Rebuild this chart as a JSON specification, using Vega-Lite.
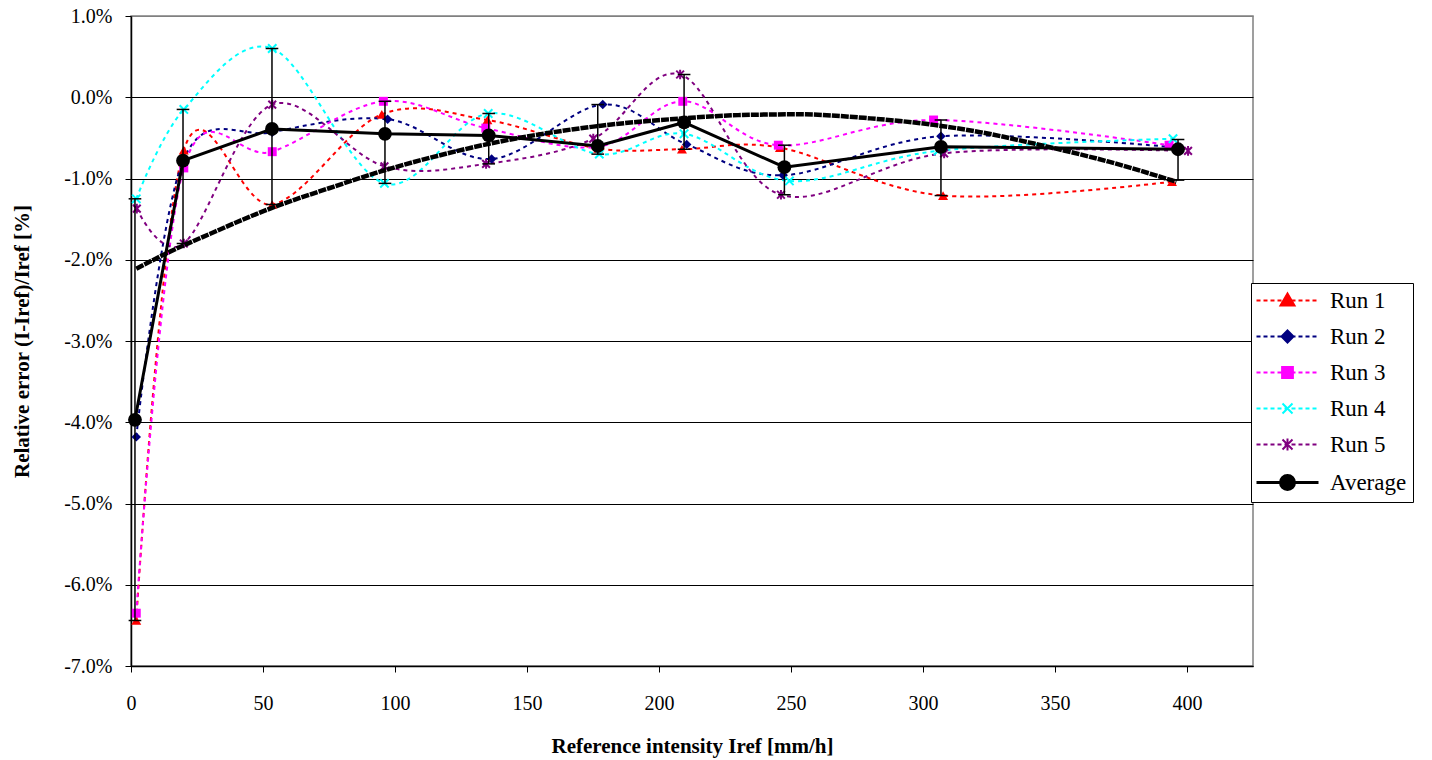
{
  "$schema": "https://vega.github.io/schema/vega-lite/v6.json",
  "width": 1122,
  "height": 650,
  "autosize": "none",
  "padding": {"left": 131, "top": 16, "right": 179, "bottom": 94},
  "background": "white",
  "config": {
    "view": {"stroke": "#808080", "strokeWidth": 1.5},
    "font": "Liberation Serif",
    "axis": {"labelFont": "Liberation Serif", "titleFont": "Liberation Serif", "labelColor": "black", "titleColor": "black"}
  },
  "datasets": {
    "runs": [
      {"series": "Run 1", "x": 2, "y": -6.44}, {"series": "Run 1", "x": 20, "y": -0.65}, {"series": "Run 1", "x": 53.5, "y": -1.32}, {"series": "Run 1", "x": 95, "y": -0.21}, {"series": "Run 1", "x": 135, "y": -0.28}, {"series": "Run 1", "x": 177, "y": -0.63}, {"series": "Run 1", "x": 208.7, "y": -0.64}, {"series": "Run 1", "x": 245.8, "y": -0.62}, {"series": "Run 1", "x": 307.6, "y": -1.21}, {"series": "Run 1", "x": 394.3, "y": -1.04},
      {"series": "Run 2", "x": 2, "y": -4.18}, {"series": "Run 2", "x": 20, "y": -0.76}, {"series": "Run 2", "x": 53.5, "y": -0.43}, {"series": "Run 2", "x": 97.2, "y": -0.27}, {"series": "Run 2", "x": 136.6, "y": -0.76}, {"series": "Run 2", "x": 178.7, "y": -0.09}, {"series": "Run 2", "x": 210.5, "y": -0.58}, {"series": "Run 2", "x": 247, "y": -0.96}, {"series": "Run 2", "x": 306.8, "y": -0.48}, {"series": "Run 2", "x": 396.6, "y": -0.62},
      {"series": "Run 3", "x": 2, "y": -6.35}, {"series": "Run 3", "x": 20, "y": -0.87}, {"series": "Run 3", "x": 53.5, "y": -0.67}, {"series": "Run 3", "x": 95.6, "y": -0.05}, {"series": "Run 3", "x": 134.4, "y": -0.38}, {"series": "Run 3", "x": 177, "y": -0.61}, {"series": "Run 3", "x": 209, "y": -0.05}, {"series": "Run 3", "x": 245.2, "y": -0.59}, {"series": "Run 3", "x": 304, "y": -0.28}, {"series": "Run 3", "x": 393.2, "y": -0.59},
      {"series": "Run 4", "x": 2, "y": -1.25}, {"series": "Run 4", "x": 20, "y": -0.15}, {"series": "Run 4", "x": 53.5, "y": 0.60}, {"series": "Run 4", "x": 96, "y": -1.06}, {"series": "Run 4", "x": 135.3, "y": -0.20}, {"series": "Run 4", "x": 177.4, "y": -0.70}, {"series": "Run 4", "x": 209.5, "y": -0.45}, {"series": "Run 4", "x": 249.4, "y": -1.03}, {"series": "Run 4", "x": 305.7, "y": -0.66}, {"series": "Run 4", "x": 394.7, "y": -0.51},
      {"series": "Run 5", "x": 2.2, "y": -1.37}, {"series": "Run 5", "x": 20, "y": -1.80}, {"series": "Run 5", "x": 53.5, "y": -0.09}, {"series": "Run 5", "x": 96, "y": -0.85}, {"series": "Run 5", "x": 134.5, "y": -0.82}, {"series": "Run 5", "x": 175.1, "y": -0.51}, {"series": "Run 5", "x": 208, "y": 0.28}, {"series": "Run 5", "x": 246.2, "y": -1.20}, {"series": "Run 5", "x": 308, "y": -0.69}, {"series": "Run 5", "x": 400.4, "y": -0.66}
    ],
    "avg": [
      {"x": 1.5, "y": -3.97, "lo": -6.44, "hi": -1.25},
      {"x": 19.7, "y": -0.78, "lo": -1.80, "hi": -0.15},
      {"x": 53.4, "y": -0.39, "lo": -1.32, "hi": 0.60},
      {"x": 96.2, "y": -0.45, "lo": -1.06, "hi": -0.05},
      {"x": 135.5, "y": -0.47, "lo": -0.82, "hi": -0.20},
      {"x": 176.8, "y": -0.60, "lo": -0.70, "hi": -0.09},
      {"x": 209.5, "y": -0.31, "lo": -0.64, "hi": 0.28},
      {"x": 247.5, "y": -0.86, "lo": -1.20, "hi": -0.59},
      {"x": 306.8, "y": -0.61, "lo": -1.21, "hi": -0.28},
      {"x": 396.6, "y": -0.64, "lo": -1.02, "hi": -0.52}
    ],
    "trend": [
      {"x": 2, "y": -2.11}, {"x": 13.5, "y": -1.92}, {"x": 30, "y": -1.68}, {"x": 52.7, "y": -1.37}, {"x": 75, "y": -1.12}, {"x": 97, "y": -0.89}, {"x": 120, "y": -0.69}, {"x": 136, "y": -0.57}, {"x": 160, "y": -0.43}, {"x": 178, "y": -0.35}, {"x": 209, "y": -0.26}, {"x": 230, "y": -0.22}, {"x": 253, "y": -0.21}, {"x": 280, "y": -0.26}, {"x": 304, "y": -0.34}, {"x": 325, "y": -0.45}, {"x": 342, "y": -0.57}, {"x": 370, "y": -0.79}, {"x": 396, "y": -1.04}
    ]
  },
  "layer": [
    {
      "data": {"name": "runs"},
      "mark": {"type": "line", "strokeWidth": 2, "strokeDash": [4, 4], "interpolate": "cardinal"},
      "encoding": {
        "x": {"field": "x", "type": "quantitative", "scale": {"domain": [0, 425], "nice": false, "zero": false},
          "axis": {"title": "Reference intensity Iref [mm/h]", "titleFontSize": 21, "titleFontWeight": "bold", "titlePadding": 22,
            "values": [0, 50, 100, 150, 200, 250, 300, 350, 400], "grid": false, "labelFontSize": 20, "labelPadding": 21,
            "tickSize": 6, "tickColor": "black", "domainColor": "black", "domainWidth": 1.5, "labelFlush": false}},
        "y": {"field": "y", "type": "quantitative", "scale": {"domain": [-7, 1], "nice": false, "zero": false},
          "axis": {"title": "Relative error (I-Iref)/Iref [%]", "titleFontSize": 21, "titleFontWeight": "bold", "titlePadding": 31,
            "values": [-7, -6, -5, -4, -3, -2, -1, 0, 1], "grid": true,
            "gridColor": {"condition": {"test": "datum.value === 1", "value": "#808080"}, "value": "#000000"},
            "gridWidth": 1, "labelFontSize": 20, "labelPadding": 13, "tickSize": 6, "tickColor": "black",
            "domainColor": "black", "domainWidth": 1.5, "labelFlush": false,
            "labelExpr": "(datum.value < 0 ? '-' : '') + format(abs(datum.value), '.1f') + '%'"}},
        "color": {"field": "series", "type": "nominal",
          "scale": {"domain": ["Run 1", "Run 2", "Run 3", "Run 4", "Run 5", "Average"], "range": ["#ff0000", "#000080", "#ff00ff", "#00ffff", "#800080", "#000000"]},
          "legend": {
            "title": null, "orient": "none", "legendX": 1120, "legendY": 267,
            "labelFont": "Liberation Serif", "labelFontSize": 23, "labelColor": "black", "labelOffset": 50,
            "rowPadding": 12, "padding": 6, "strokeColor": "black", "fillColor": "white",
            "symbolSize": 16, "symbolStrokeWidth": 2,
            "encode": {"symbols": {"update": {
              "shape": {"signal": "datum.value === 'Run 1' ? 'M-6,0L-4,0M-2.5,0L-0.5,0M1,0L3,0M4.5,0L6.5,0M8,0L10,0M11.5,0L13.5,0M15,0L17,0M18.5,0L20.5,0M22,0L24,0M9.5,-3.5L13,2.5L6,2.5Z' : datum.value === 'Run 2' ? 'M-6,0L-4,0M-2.5,0L-0.5,0M1,0L3,0M4.5,0L6.5,0M8,0L10,0M11.5,0L13.5,0M15,0L17,0M18.5,0L20.5,0M22,0L24,0M9.5,-3L12.5,0L9.5,3L6.5,0Z' : datum.value === 'Run 3' ? 'M-6,0L-4,0M-2.5,0L-0.5,0M1,0L3,0M4.5,0L6.5,0M8,0L10,0M11.5,0L13.5,0M15,0L17,0M18.5,0L20.5,0M22,0L24,0M6.8,-2.7L12.2,-2.7L12.2,2.7L6.8,2.7Z' : datum.value === 'Run 4' ? 'M-6,0L-4,0M-2.5,0L-0.5,0M1,0L3,0M4.5,0L6.5,0M8,0L10,0M11.5,0L13.5,0M15,0L17,0M18.5,0L20.5,0M22,0L24,0M7,-2.5L12,2.5M7,2.5L12,-2.5' : datum.value === 'Run 5' ? 'M-6,0L-4,0M-2.5,0L-0.5,0M1,0L3,0M4.5,0L6.5,0M8,0L10,0M11.5,0L13.5,0M15,0L17,0M18.5,0L20.5,0M22,0L24,0M7,-2.5L12,2.5M7,2.5L12,-2.5M9.5,-3L9.5,3' : 'M-6,0L25,0M13,0A3.5,3.5,0,1,1,6,0A3.5,3.5,0,1,1,13,0Z'"},
              "fill": {"signal": "scale('color', datum.value)"},
              "stroke": {"signal": "scale('color', datum.value)"},
              "strokeWidth": {"signal": "datum.value === 'Average' ? 3 : 2"},
              "strokeDash": {"value": []},
              "opacity": {"value": 1},
              "fillOpacity": {"value": 1},
              "size": {"value": 16}
            }}}
          }}
      }
    },
    {
      "data": {"name": "runs"},
      "transform": [{"filter": "datum.series === 'Run 1' || datum.series === 'Run 2' || datum.series === 'Run 3'"}],
      "mark": {"type": "point", "filled": true, "opacity": 1},
      "encoding": {
        "x": {"field": "x", "type": "quantitative"},
        "y": {"field": "y", "type": "quantitative"},
        "color": {"field": "series", "type": "nominal"},
        "shape": {"field": "series", "type": "nominal", "legend": null,
          "scale": {"domain": ["Run 1", "Run 2", "Run 3", "Run 4", "Run 5"], "range": ["triangle-up", "diamond", "square", "M-1,-1L1,1M-1,1L1,-1", "M-1,-1L1,1M-1,1L1,-1M0,-1.25L0,1.25"]}},
        "size": {"field": "series", "type": "nominal", "legend": null,
          "scale": {"domain": ["Run 1", "Run 2", "Run 3", "Run 4", "Run 5"], "range": [100, 60, 90, 110, 110]}}
      }
    },
    {
      "data": {"name": "runs"},
      "transform": [{"filter": "datum.series === 'Run 4' || datum.series === 'Run 5'"}],
      "mark": {"type": "point", "filled": false, "opacity": 1, "strokeWidth": 2},
      "encoding": {
        "x": {"field": "x", "type": "quantitative"},
        "y": {"field": "y", "type": "quantitative"},
        "color": {"field": "series", "type": "nominal"},
        "shape": {"field": "series", "type": "nominal", "legend": null},
        "size": {"field": "series", "type": "nominal", "legend": null}
      }
    },
    {
      "data": {"name": "trend"},
      "mark": {"type": "line", "color": "black", "strokeWidth": 4.5, "strokeDash": [8, 1], "interpolate": "monotone"},
      "encoding": {
        "x": {"field": "x", "type": "quantitative"},
        "y": {"field": "y", "type": "quantitative"}
      }
    },
    {
      "data": {"name": "avg"},
      "mark": {"type": "line", "color": "black", "strokeWidth": 3},
      "encoding": {
        "x": {"field": "x", "type": "quantitative"},
        "y": {"field": "y", "type": "quantitative"}
      }
    },
    {
      "data": {"name": "avg"},
      "mark": {"type": "rule", "color": "black", "strokeWidth": 1.5},
      "encoding": {
        "x": {"field": "x", "type": "quantitative"},
        "y": {"field": "lo", "type": "quantitative"},
        "y2": {"field": "hi"}
      }
    },
    {
      "data": {"name": "avg"},
      "transform": [{"fold": ["lo", "hi"], "as": ["end", "v"]}],
      "mark": {"type": "point", "shape": "stroke", "filled": false, "color": "black", "strokeWidth": 1.5, "size": 160, "opacity": 1},
      "encoding": {
        "x": {"field": "x", "type": "quantitative"},
        "y": {"field": "v", "type": "quantitative"}
      }
    },
    {
      "data": {"name": "avg"},
      "mark": {"type": "point", "shape": "circle", "filled": true, "color": "black", "size": 190, "opacity": 1},
      "encoding": {
        "x": {"field": "x", "type": "quantitative"},
        "y": {"field": "y", "type": "quantitative"}
      }
    }
  ]
}
